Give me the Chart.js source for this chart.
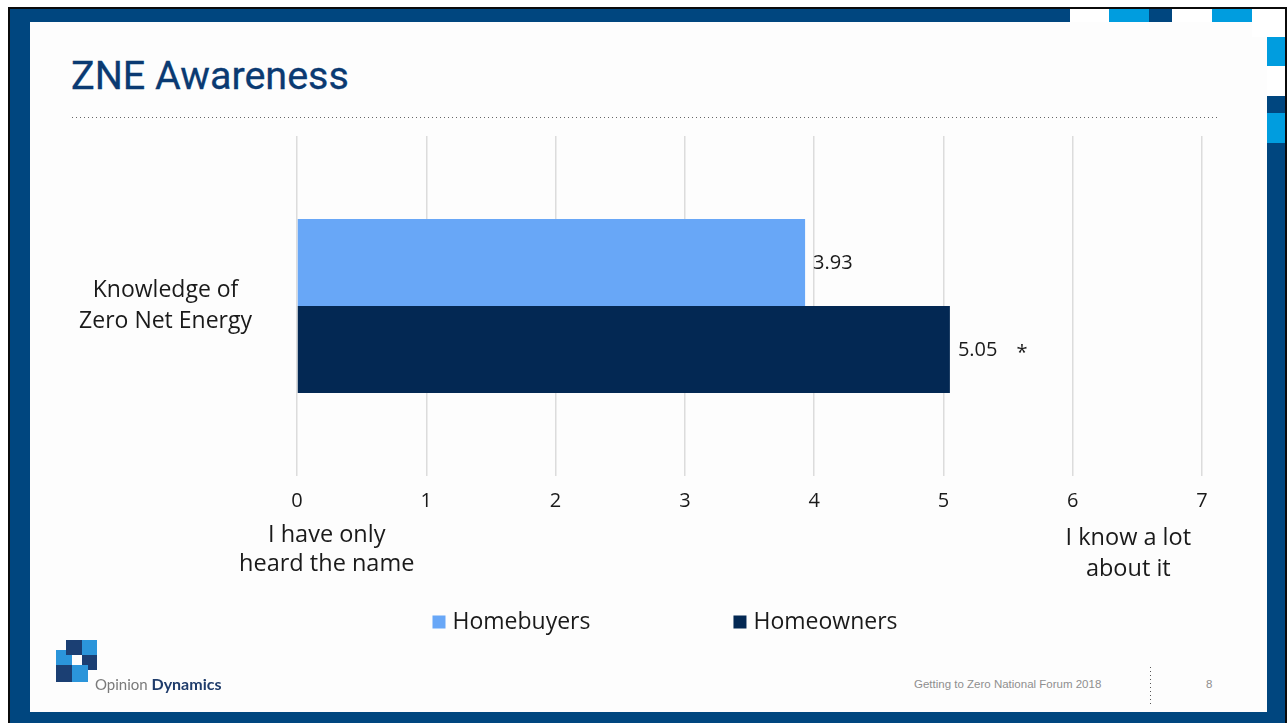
<!DOCTYPE html>
<html>
<head>
<meta charset="utf-8">
<title>ZNE Awareness</title>
<script src="https://cdn.jsdelivr.net/npm/chart.js@4.4.1/dist/chart.umd.min.js"></script>
<style>
  html, body { margin: 0; padding: 0; background: #fff; }
  body { width: 1288px; height: 723px; position: relative; overflow: hidden; font-family: 'Open Sans', sans-serif; }
  .abs { position: absolute; }
  .dark { background: #00467f; }
  .light { background: #009ddf; }
  .white { background: #fff; }
  #title { left: 71px; top: 56px; font: 39.5px/39px Roboto, sans-serif; color: #0a3a72; white-space: nowrap; -webkit-text-stroke: 0.3px #0a3a72; }
  #rule { left: 72px; top: 117px; width: 1148px; height: 1px;
          background: repeating-linear-gradient(to right, #666 0 1px, transparent 1px 4px); }
  #chartBox { left: 60px; top: 125px; width: 1210px; height: 525px; }
  #footer { left: 914px; top: 678px; font: 11.5px 'Liberation Sans', sans-serif; color: #8f8f8f; white-space: nowrap; }
  #pageNo { left: 1206px; top: 678px; font: 11.5px 'Liberation Sans', sans-serif; color: #8f8f8f; }
  #vrule { left: 1150px; top: 667px; width: 1px; height: 37px;
           background: repeating-linear-gradient(to bottom, #555 0 1px, transparent 1px 4px); }
  #brand { left: 95px; top: 674px; font: 15px Lato, sans-serif; color: #7a7a7a; white-space: nowrap; }
  #brand b { color: #1f3c6b; font-weight: 700; font-size: 16px; }
</style>
</head>
<body>
  <!-- slide frame -->
  <div class="abs" style="left:8px;top:7px;width:1279px;height:716px;background:#0b0b0b"></div>
  <div class="abs dark" style="left:10px;top:9px;width:1275px;height:714px"></div>
  <div class="abs" style="left:30px;top:22px;width:1237px;height:690px;background:#fdfdfd"></div>
  <!-- top-right blocks -->
  <div class="abs white" style="left:1070px;top:9px;width:39px;height:13px"></div>
  <div class="abs light" style="left:1109px;top:9px;width:40px;height:13px"></div>
  <div class="abs white" style="left:1172px;top:9px;width:40px;height:13px"></div>
  <div class="abs light" style="left:1212px;top:9px;width:40px;height:13px"></div>
  <div class="abs white" style="left:1252px;top:9px;width:33px;height:28px"></div>
  <div class="abs light" style="left:1267px;top:37px;width:18px;height:29px"></div>
  <div class="abs white" style="left:1267px;top:66px;width:18px;height:30px"></div>
  <div class="abs light" style="left:1267px;top:113px;width:18px;height:30px"></div>

  <div id="title" class="abs">ZNE Awareness</div>
  <div id="rule" class="abs"></div>

  <div id="chartBox" class="abs"><canvas id="awareness"></canvas></div>

  <!-- logo -->
  <div class="abs" style="left:66px;top:640px;width:16px;height:15px;background:#1b3f73"></div>
  <div class="abs" style="left:82px;top:640px;width:15px;height:15px;background:#2b95da"></div>
  <div class="abs" style="left:56px;top:650px;width:10px;height:15px;background:#2b95da"></div>
  <div class="abs" style="left:66px;top:655px;width:6px;height:10px;background:#2b95da"></div>
  <div class="abs" style="left:82px;top:655px;width:15px;height:15px;background:#1b3f73"></div>
  <div class="abs" style="left:56px;top:665px;width:16px;height:17px;background:#1b3f73"></div>
  <div class="abs" style="left:72px;top:665px;width:16px;height:17px;background:#2b95da"></div>
  <div id="brand" class="abs">Opinion <b>Dynamics</b></div>

  <div id="footer" class="abs">Getting to Zero National Forum 2018</div>
  <div id="vrule" class="abs"></div>
  <div id="pageNo" class="abs">8</div>

<script>
const categories = [['Knowledge of', 'Zero Net Energy']];
const seriesNames = ['Homebuyers', 'Homeowners'];
const homebuyers = [3.93];
const homeowners = [5.05];
const seriesColors = ['#68a7f7', '#032853'];
const significant = [false, true];
const xMin = 0;
const xMax = 7;
const lowEndLabel = ['I have only', 'heard the name'];
const highEndLabel = ['I know a lot', 'about it'];

Chart.defaults.font.family = "'Open Sans', sans-serif";
Chart.defaults.color = '#1a1a1a';

// value text to the right of each bar, "*" where the difference is significant
const valueLabels = {
  id: 'valueLabels',
  afterDatasetsDraw(chart) {
    const ctx = chart.ctx;
    ctx.save();
    ctx.font = '20px "Open Sans"';
    ctx.fillStyle = '#1a1a1a';
    ctx.textAlign = 'left';
    ctx.textBaseline = 'middle';
    chart.data.datasets.forEach((ds, i) => {
      chart.getDatasetMeta(i).data.forEach((bar, j) => {
        const txt = ds.data[j].toFixed(2);
        ctx.fillText(txt, bar.x + 8, bar.y + 1);
        if (significant[i]) {
          const w = ctx.measureText(txt).width;
          ctx.fillText('*', bar.x + 8 + w + 19, bar.y + 4);
        }
      });
    });
    ctx.restore();
  }
};

// captions under both ends of the scale + legend row
const scaleCaptions = {
  id: 'scaleCaptions',
  afterDraw(chart) {
    const ctx = chart.ctx;
    const x = chart.scales.x;
    const bottom = chart.chartArea.bottom;
    ctx.save();
    ctx.fillStyle = '#1a1a1a';
    ctx.textBaseline = 'middle';
    ctx.textAlign = 'center';
    ctx.font = '23.5px "Open Sans"';
    lowEndLabel.forEach((t, k) => ctx.fillText(t, x.getPixelForValue(0.23), bottom + 59 + k * 29));
    highEndLabel.forEach((t, k) => ctx.fillText(t, x.getPixelForValue(6.43), bottom + 62 + k * 31));

    // legend
    ctx.font = '23px "Open Sans"';
    ctx.textAlign = 'left';
    const box = 13, gap = 7, spacing = 143;
    const items = chart.data.datasets.map(d => ({
      label: d.label, color: d.backgroundColor, w: box + gap + ctx.measureText(d.label).width
    }));
    const total = items.reduce((s, it) => s + it.w, 0) + spacing * (items.length - 1);
    let lx = chart.width / 2 - total / 2;
    const ly = bottom + 146;
    items.forEach(it => {
      ctx.fillStyle = it.color;
      ctx.fillRect(lx, ly - box / 2, box, box);
      ctx.fillStyle = '#1a1a1a';
      ctx.fillText(it.label, lx + box + gap, ly);
      lx += it.w + spacing;
    });
    ctx.restore();
  }
};

new Chart(document.getElementById('awareness'), {
  type: 'bar',
  data: {
    labels: categories,
    datasets: [{
      label: seriesNames[0],
      data: homebuyers,
      backgroundColor: seriesColors[0],
      barPercentage: 1,
      categoryPercentage: 0.512
    }, {
      label: seriesNames[1],
      data: homeowners,
      backgroundColor: seriesColors[1],
      barPercentage: 1,
      categoryPercentage: 0.512
    }]
  },
  options: {
    indexAxis: 'y',
    responsive: true,
    maintainAspectRatio: false,
    animation: false,
    layout: { padding: { top: 11, right: 68, bottom: 0, left: 0 } },
    scales: {
      x: {
        min: xMin,
        max: xMax,
        afterFit: scale => { scale.height = 174 },
        border: { display: false },
        grid: { color: '#dcdcdc', lineWidth: 1.5, drawTicks: false },
        ticks: { stepSize: 1, padding: 13, font: { size: 20 } }
      },
      y: {
        // fixed label column; no extra room for the two-line label overflow
        afterFit: scale => {
          scale.width = 237;
          scale.paddingTop = 0;
          scale.paddingBottom = 0;
        },
        border: { display: false },
        grid: { display: false },
        ticks: { crossAlign: 'center', padding: 37, font: { size: 23, lineHeight: 1.35 } }
      }
    },
    plugins: {
      legend: { display: false },
      tooltip: { enabled: false }
    }
  },
  plugins: [valueLabels, scaleCaptions]
});
</script>
</body>
</html>
